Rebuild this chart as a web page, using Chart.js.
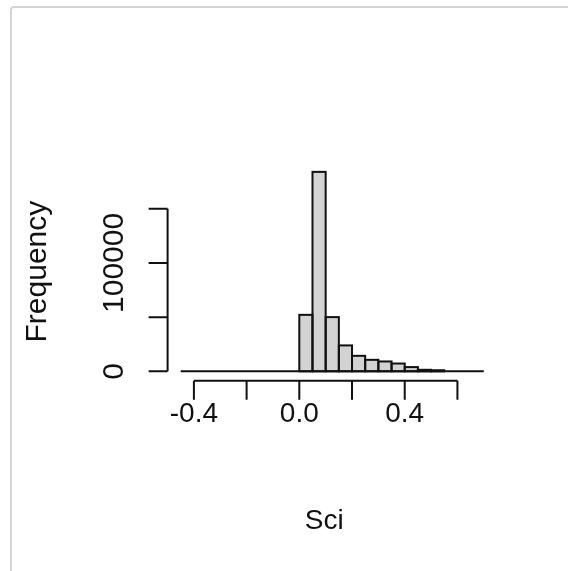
<!DOCTYPE html>
<html>
<head>
<meta charset="utf-8">
<title>Sci</title>
<script src="https://cdn.jsdelivr.net/npm/chart.js@4.4.1/dist/chart.umd.min.js"></script>
<style>
  html, body { margin: 0; padding: 0; background: #fff; overflow: hidden; }
  #wrap { position: relative; width: 568px; height: 571px; }
  #histChart { position: absolute; left: 0; top: 0; }
  #frame {
    position: absolute; left: 10px; top: 6px; width: 700px; height: 700px;
    border: 2px solid #d4d4d4; border-top-left-radius: 4px;
    box-sizing: border-box; pointer-events: none;
  }
</style>
</head>
<body>
<div id="wrap">
  <canvas id="histChart" width="568" height="571"></canvas>
  <div id="frame"></div>
</div>
<script>
// histogram bins (left edges) and their counts
var binStarts = [-0.45, -0.40, -0.35, -0.30, -0.25, -0.20, -0.15, -0.10, -0.05,
                 0.00, 0.05, 0.10, 0.15, 0.20, 0.25, 0.30, 0.35, 0.40, 0.45, 0.50,
                 0.55, 0.60, 0.65];
var binWidth = 0.05;
var counts = [0, 0, 0, 0, 0, 0, 0, 0, 0,
              52100, 184000, 50000, 23900, 14300, 10600, 9100, 7200, 3900, 1400, 1000,
              0, 0, 0];

var xTicks = [-0.4, -0.2, 0.0, 0.2, 0.4, 0.6];
var xTickLabels = ["-0.4", "", "0.0", "", "0.4", ""];
var yTicks = [0, 50000, 100000, 150000];
var yTickLabels = ["0", "", "100000", ""];
var xTitle = "Sci";
var yTitle = "Frequency";

var FONT = "'Liberation Sans', Arial, sans-serif";
var INK = "#111";

// R-style axes: detached lines, outward ticks, rotated y labels
const histAxes = {
  id: "histAxes",
  afterDatasetsDraw(chart) {
    const ctx = chart.ctx;
    const xs = chart.scales.x;
    const ys = chart.scales.y;
    const area = chart.chartArea;
    const tick = 19;

    ctx.save();
    ctx.strokeStyle = INK;
    ctx.fillStyle = INK;
    ctx.lineWidth = 2;

    // bar outlines centred on the edges, so neighbouring bins share one line
    chart.getDatasetMeta(0).data.forEach((bar, i) => {
      if (!counts[i]) return;
      const p = bar.getProps(["x", "y", "base", "width"], true);
      ctx.strokeRect(p.x - p.width / 2, p.y, p.width, p.base - p.y);
    });

    // empty bins collapse into a line along zero
    const y0 = ys.getPixelForValue(0);
    ctx.beginPath();
    ctx.moveTo(xs.getPixelForValue(binStarts[0]), y0);
    ctx.lineTo(xs.getPixelForValue(binStarts[binStarts.length - 1] + binWidth), y0);
    ctx.stroke();

    // y axis
    const ax = area.left - 1;
    ctx.beginPath();
    ctx.moveTo(ax, ys.getPixelForValue(yTicks[0]));
    ctx.lineTo(ax, ys.getPixelForValue(yTicks[yTicks.length - 1]));
    yTicks.forEach(v => {
      const py = ys.getPixelForValue(v);
      ctx.moveTo(ax, py);
      ctx.lineTo(ax - tick, py);
    });
    ctx.stroke();

    ctx.font = "30px " + FONT;
    ctx.textAlign = "center";
    ctx.textBaseline = "alphabetic";
    yTicks.forEach((v, i) => {
      if (!yTickLabels[i]) return;
      ctx.save();
      ctx.translate(ax - 45, ys.getPixelForValue(v));
      ctx.rotate(-Math.PI / 2);
      ctx.fillText(yTickLabels[i], 0, 0);
      ctx.restore();
    });

    ctx.save();
    ctx.translate(46, (area.top + area.bottom) / 2);
    ctx.rotate(-Math.PI / 2);
    ctx.fillText(yTitle, 0, 0);
    ctx.restore();

    // x axis
    const ay = area.bottom + 1.5;
    ctx.beginPath();
    ctx.moveTo(xs.getPixelForValue(xTicks[0]), ay);
    ctx.lineTo(xs.getPixelForValue(xTicks[xTicks.length - 1]), ay);
    xTicks.forEach(v => {
      const px = xs.getPixelForValue(v);
      ctx.moveTo(px, ay);
      ctx.lineTo(px, ay + tick);
    });
    ctx.stroke();

    ctx.font = "28px " + FONT;
    xTicks.forEach((v, i) => {
      if (!xTickLabels[i]) return;
      ctx.fillText(xTickLabels[i], xs.getPixelForValue(v), ay + 41);
    });

    ctx.fillText(xTitle, (area.left + area.right) / 2 - 8, 529);
    ctx.restore();
  }
};

const ctx = document.getElementById("histChart").getContext("2d");

const histChart = new Chart(ctx, {
  type: "bar",
  data: {
    datasets: [
      {
        data: binStarts.map((s, i) => ({ x: s + binWidth / 2, y: counts[i] })),
        backgroundColor: "#d3d3d3",
        borderWidth: 0,
        barPercentage: 1,
        categoryPercentage: 1,
      },
    ],
  },
  options: {
    responsive: false,
    animation: false,
    devicePixelRatio: 1,
    layout: {
      padding: { left: 168.6, right: 72.1, top: 163.9, bottom: 191.7 },
    },
    plugins: {
      legend: { display: false },
      tooltip: { enabled: false },
    },
    scales: {
      x: {
        type: "linear",
        display: false,
        offset: false,
        min: -0.496,
        max: 0.746,
        afterBuildTicks: s => { s.ticks = xTicks.map(v => ({ value: v })); },
      },
      y: {
        display: false,
        min: -7360,
        max: 191360,
        afterBuildTicks: s => { s.ticks = yTicks.map(v => ({ value: v })); },
      },
    },
  },
  plugins: [histAxes],
});
</script>
</body>
</html>
